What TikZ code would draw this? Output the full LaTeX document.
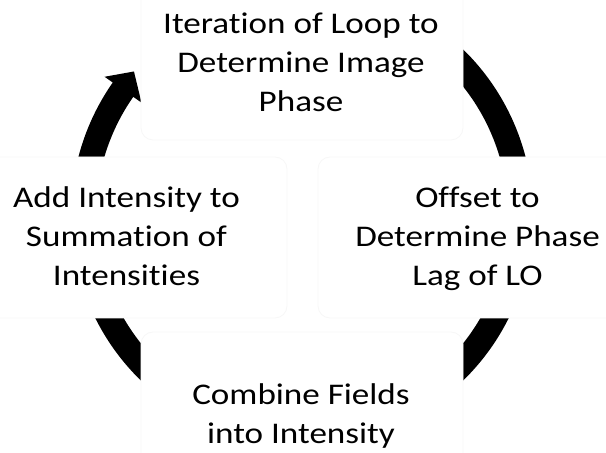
\documentclass[tikz,border=0pt]{standalone}
\usepackage{fontspec}
\setmainfont{Carlito}[FakeStretch=1.17, Ligatures={NoCommon}]
\begin{document}
\begin{tikzpicture}[x=1pt,y=1pt,
  lbl/.style={align=center, font=\fontsize{30}{39}\selectfont, inner sep=0pt},
  bx/.style={draw=black!3, fill=white, rounded corners=12pt, line width=0.8pt},
  band/.style={line width=25pt, black}]
\useasboundingbox (0,0) rectangle (606,453);
\coordinate (c) at (302,238);
\begin{scope}[shift={(c)}]
  \draw[band] (60:218.5) arc[start angle=60, end angle=-25, radius=218.5];
  \draw[band] (-25:218.5) arc[start angle=-25, end angle=-55, radius=218.5];
  \draw[band] (-125:218.5) arc[start angle=-125, end angle=-155, radius=218.5];
  \fill[black] (170:231) arc[start angle=170, end angle=145, radius=231]
     -- (145:241) -- (139.5:221) -- (145:196) -- (145:206)
     arc[start angle=145, end angle=170, radius=206] -- cycle;
\end{scope}
% node boxes
\draw[bx] (141,313) rectangle (463,480);
\draw[bx] (318,135) rectangle (625,296);
\draw[bx] (-20,135) rectangle (287,296);
\draw[bx] (141,-20) rectangle (463,121);
% labels
\node[lbl] (top) at (301,391) {Iteration of Loop to\\Determine Image\\Phase};
\node[lbl] (right) at (477.5,214.5) {Offset to\\Determine Phase\\Lag of LO};
\node[lbl] (bottom) at (301,37) {Combine Fields\\into Intensity};
\node[lbl] (left) at (126.5,216.5) {Add Intensity to\\Summation of\\Intensities};
\end{tikzpicture}
\end{document}
